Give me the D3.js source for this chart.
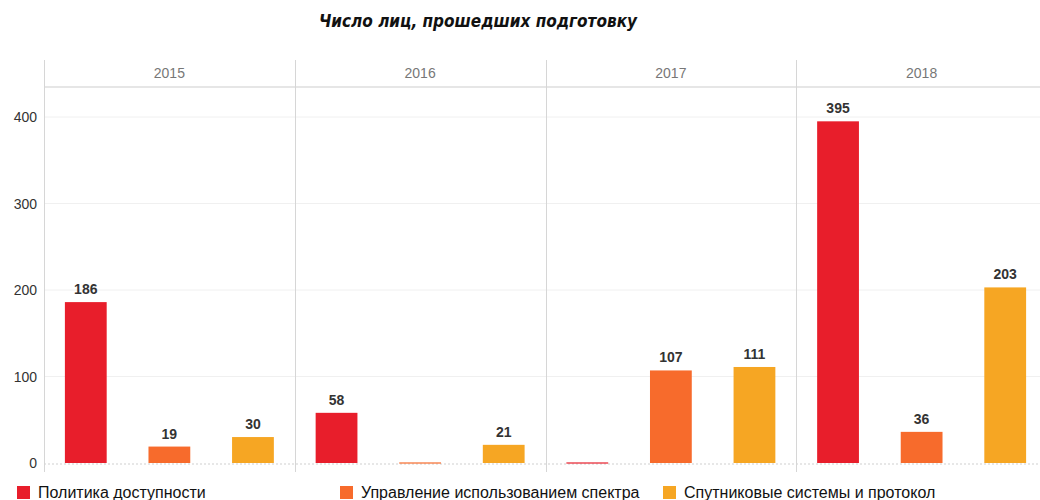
<!DOCTYPE html>
<html>
<head>
<meta charset="utf-8">
<script src="https://cdn.jsdelivr.net/npm/d3@7"></script>
<style>
body { margin:0; background:#fff; overflow:hidden; }
</style>
</head>
<body>
<div id="chart"></div>
<script>
// data
var years = ["2015", "2016", "2017", "2018"]
var series = ["Политика доступности", "Управление использованием спектра", "Спутниковые системы и протокол"]
var politika = [186, 58, 0, 395]
var upravlenie = [19, 0, 107, 36]
var sputnik = [30, 21, 111, 203]
var yTicks = [0, 100, 200, 300, 400]
var colors = ["#E81E2B", "#F76B2C", "#F6A623"]

var values = [politika, upravlenie, sputnik]

var W = 1040, H = 500
var mLeft = 44, mRight = 1047, mTop = 60, headH = 27, mBottom = 472

var svg = d3.select("#chart").append("svg")
    .attr("width", W).attr("height", H)
    .style("font-family", "'Liberation Sans Narrow', 'Liberation Sans', Arial, sans-serif")

// title
svg.append("text")
    .attr("x", 478).attr("y", 27)
    .attr("text-anchor", "middle")
    .style("font-family", "'DejaVu Sans Condensed', 'Liberation Sans Narrow', sans-serif")
    .style("font-weight", "bold").style("font-style", "italic")
    .style("font-size", "17px").style("fill", "#111")
    .text("Число лиц, прошедших подготовку")

var facet = d3.scaleBand().domain(years).range([mLeft, mRight])
var y = d3.scaleLinear().domain([0, 400]).range([463, 117])
var x = d3.scaleBand().domain(series).range([0, facet.bandwidth()])
    .paddingInner(0.5).paddingOuter(0.25)

// horizontal gridlines
svg.append("g").selectAll("line").data(yTicks.slice(1)).enter().append("line")
    .attr("x1", mLeft).attr("x2", mRight)
    .attr("y1", d => y(d)).attr("y2", d => y(d))
    .style("stroke", "#f0f0f0").style("stroke-width", 1)

// zero line (dotted)
svg.append("line")
    .attr("x1", mLeft).attr("x2", mRight)
    .attr("y1", y(0) + 1).attr("y2", y(0) + 1)
    .style("stroke", "#cfcfcf").style("stroke-dasharray", "2,2")

// header line under years
svg.append("line")
    .attr("x1", mLeft).attr("x2", mRight)
    .attr("y1", mTop + headH).attr("y2", mTop + headH)
    .style("stroke", "#e6e6e6").style("stroke-width", 2)

// facet separators
svg.append("g").selectAll("line").data(years).enter().append("line")
    .attr("x1", d => Math.round(facet(d)) + 0.5).attr("x2", d => Math.round(facet(d)) + 0.5)
    .attr("y1", mTop).attr("y2", mBottom)
    .style("stroke", "#d6d6d6")

// year headers
svg.append("g").selectAll("text").data(years).enter().append("text")
    .attr("x", d => facet(d) + facet.bandwidth() / 2)
    .attr("y", mTop + 18)
    .attr("text-anchor", "middle")
    .style("font-size", "14px").style("fill", "#777")
    .text(d => d)

// y axis labels
svg.append("g").selectAll("text").data(yTicks).enter().append("text")
    .attr("x", 37).attr("y", d => y(d) + 5)
    .attr("text-anchor", "end")
    .style("font-size", "14px").style("fill", "#333")
    .text(d => d)

// bars
var cells = []
years.forEach(function(yr, i) {
    series.forEach(function(s, j) {
        cells.push({year: yr, series: s, idx: j, value: values[j][i]})
    })
})

var g = svg.append("g")
g.selectAll("rect").data(cells).enter().append("rect")
    .attr("x", d => facet(d.year) + x(d.series))
    .attr("y", d => d.value > 0 ? y(d.value) : y(0) - 1)
    .attr("width", x.bandwidth())
    .attr("height", d => d.value > 0 ? y(0) - y(d.value) : 2)
    .style("fill", d => colors[d.idx])
    .style("opacity", d => d.value > 0 ? 1 : 0.6)

g.selectAll("text").data(cells.filter(d => d.value > 0)).enter().append("text")
    .attr("x", d => facet(d.year) + x(d.series) + x.bandwidth() / 2)
    .attr("y", d => y(d.value) - 8)
    .attr("text-anchor", "middle")
    .style("font-size", "14px").style("font-weight", "bold").style("fill", "#333")
    .text(d => d.value)

// legend
var legendX = [17, 340, 663]
var lg = svg.append("g").selectAll("g").data(series).enter().append("g")
    .attr("transform", (d, i) => "translate(" + legendX[i] + ",486)")
lg.append("rect").attr("width", 13).attr("height", 13)
    .style("fill", (d, i) => colors[i])
lg.append("text").attr("x", 21).attr("y", 12)
    .style("font-size", "16px").style("fill", "#111")
    .text(d => d)
</script>
</body>
</html>
